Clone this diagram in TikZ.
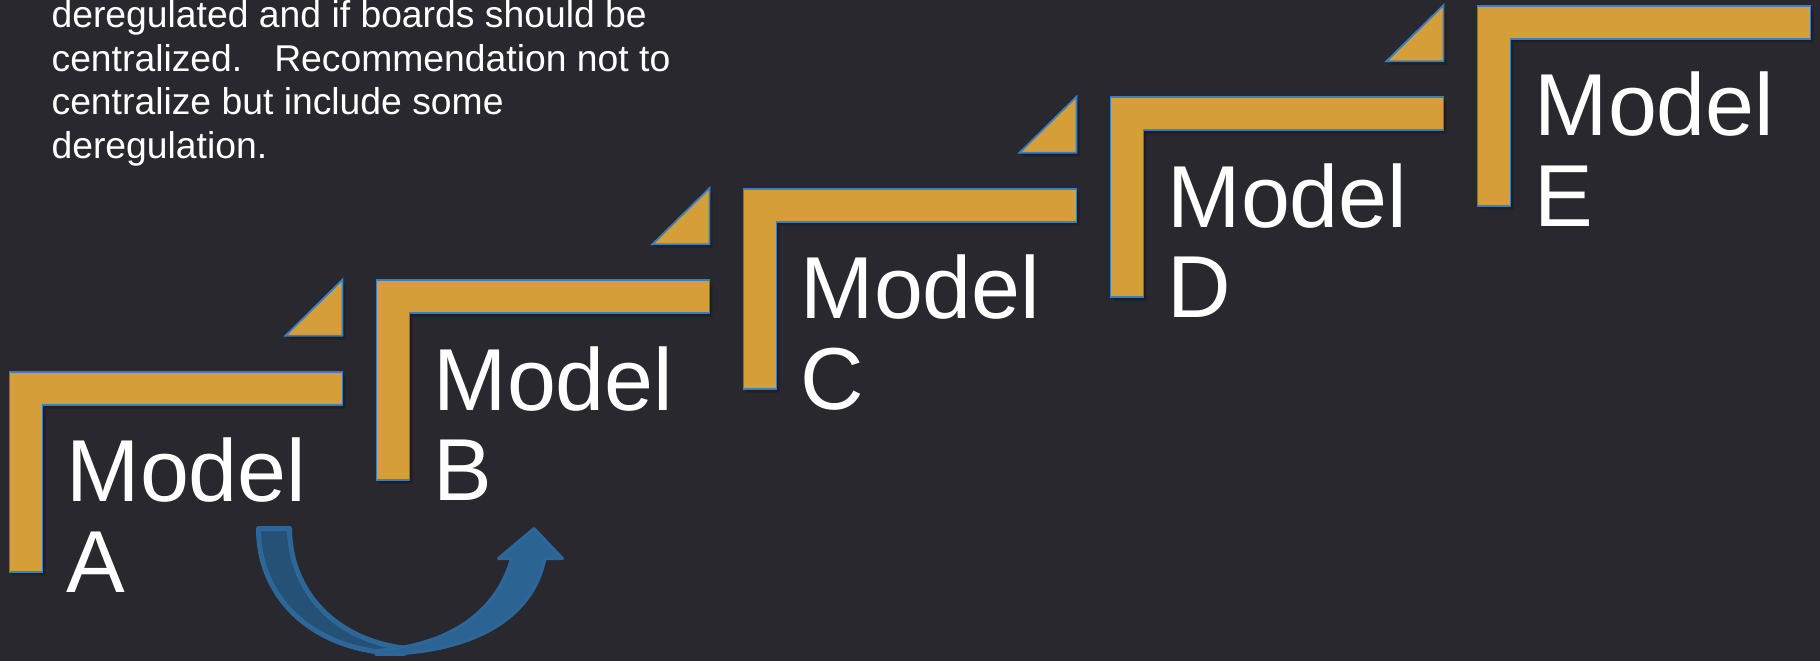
\documentclass[tikz,border=0pt]{standalone}
\usepackage{fontspec}
\setmainfont{Liberation Sans}

\definecolor{bg}{HTML}{28282E}
\definecolor{gold}{HTML}{D69E38}
\definecolor{goldedge}{HTML}{3A7EC0}
\definecolor{arrowfront}{HTML}{2B6392}
\definecolor{arrowback}{HTML}{245175}
\definecolor{arrowedge}{HTML}{2D679A}

\tikzset{
  stepshape/.style={fill=gold, draw=goldedge, line width=1.8pt, line join=miter},
  softshadow/.style={fill=black, opacity=0.16},
  modeltext/.style={inner sep=0pt, anchor=base west, text=white,
    font=\fontsize{88}{90}\selectfont},
  notetext/.style={inner sep=0pt, anchor=base west, text=white,
    font=\fontsize{37.3}{44}\selectfont},
  arrowback/.style={fill=arrowback, draw=arrowedge, line width=5pt, line join=round},
  arrowfront/.style={fill=arrowfront, draw=arrowedge, line width=3pt, line join=round},
}

\begin{document}
\begin{tikzpicture}[x=1pt,y=-1pt]
  % canvas
  \fill[bg] (0,0) rectangle (1820,661);
  \useasboundingbox (0,0) rectangle (1820,661);

  % note text
  \node[notetext] (note1) at (51.4,27.3) {deregulated and if boards should be};
  \node[notetext] (note2) at (51.4,71.0) {centralized.\hspace{32pt}Recommendation not to};
  \node[notetext] (note3) at (51.4,114.7) {centralize but include some};
  \node[notetext] (note4) at (51.4,158.4) {deregulation.};

  % staircase of L-shaped steps
  \foreach \i/\n in {0/A,1/B,2/C,3/D,4/E}{
    \pgfmathsetmacro\L{9.5+367*\i}
    \pgfmathsetmacro\T{371.7-91.5*\i}
    \foreach \s in {1.5,3}{
      \fill[softshadow, shift={(\s,\s*1.3)}]
        (\L,\T) -- ++(333,0) -- ++(0,33) -- ++(-300,0) -- ++(0,167) -- ++(-33,0) -- cycle;
    }
    \draw[stepshape]
      (\L,\T) -- ++(333,0) -- ++(0,33) -- ++(-300,0) -- ++(0,167) -- ++(-33,0) -- cycle;
    \node[modeltext] (model\n) at (\L+57,\T+130) {Model};
    \node[modeltext] (letter\n) at (\L+57,\T+220.6) {\n};
  }

  % small triangles leading up to the next step
  \foreach \i in {0,1,2,3}{
    \pgfmathsetmacro\L{9.5+367*\i}
    \pgfmathsetmacro\T{371.7-91.5*\i}
    \foreach \s in {1.5,3}{
      \fill[softshadow, shift={(\s,\s*1.3)}]
        (\L+333,\T-92) -- (\L+333,\T-36) -- (\L+276,\T-36) -- cycle;
    }
    \draw[stepshape] (\L+333,\T-92) -- (\L+333,\T-36) -- (\L+276,\T-36) -- cycle;
  }

  % curved up arrow: back strip
  \draw[arrowback]
    (258.5,528.5) -- (289.5,528.5)
    .. controls (290,592) and (336,640) .. (404,648)
    -- (404,653.5)
    .. controls (318,653.5) and (258.5,602) .. (258.5,528.5) -- cycle;
  % curved up arrow: front strip with head
  \draw[arrowfront]
    (376,654.5) .. controls (470,654.5) and (533,620) .. (545,558.5)
    -- (562.5,558.5) -- (534,528.5) -- (498.5,558.5) -- (511.5,558.5)
    .. controls (497,610) and (452,645) .. (376,650.5) -- cycle;
\end{tikzpicture}
\end{document}
